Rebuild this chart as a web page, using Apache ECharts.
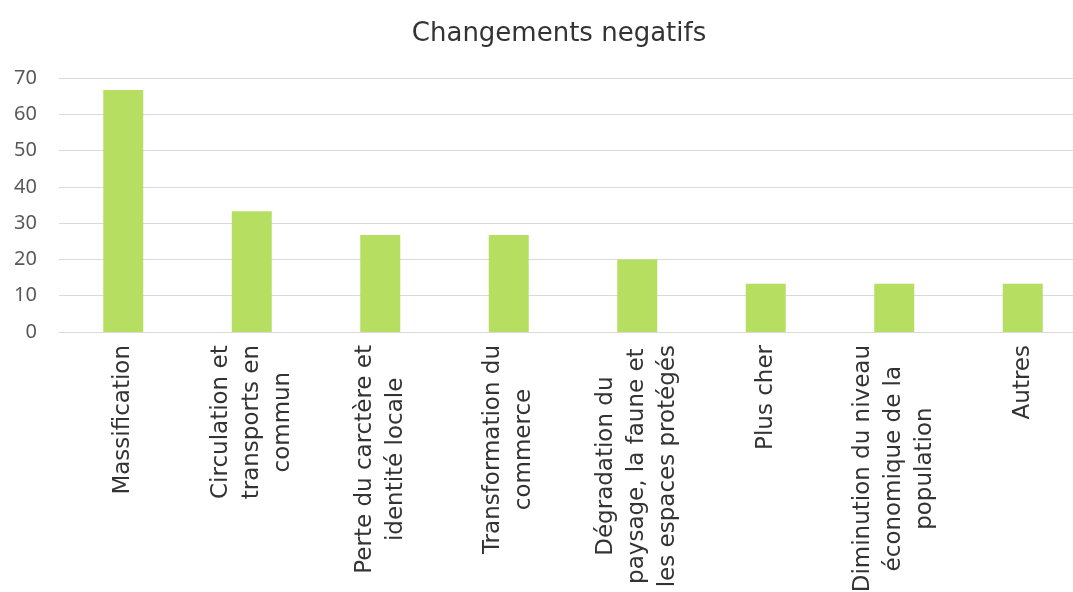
<!DOCTYPE html>
<html>
<head>
<meta charset="utf-8">
<script src="https://cdn.jsdelivr.net/npm/echarts@6/dist/echarts.min.js"></script>
<style>
  html, body { margin: 0; padding: 0; background: #fff; overflow: hidden; }
  /* plot area runs a little past the right edge in the original */
  #chart { width: 1087px; height: 592px; }
</style>
</head>
<body>
<div id="chart"></div>
<script>
// data
var categories = [
  "Massification",
  "Circulation et\ntransports en\ncommun",
  "Perte du carctère et\nidentité locale",
  "Transformation du\ncommerce",
  "Dégradation du\npaysage, la faune et\nles espaces protégés",
  "Plus cher",
  "Diminution du niveau\néconomique de la\npopulation",
  "Autres"
];
var values = [66.7, 33.3, 26.7, 26.7, 20, 13.3, 13.3, 13.3];
var yTicks = [0, 10, 20, 30, 40, 50, 60, 70];

var FONT = "DejaVu Sans";

var chart = echarts.init(document.getElementById("chart"));
chart.setOption({
  animation: false,
  title: {
    text: "Changements negatifs",
    left: 554,
    textAlign: "center",
    top: 16,
    textStyle: { fontFamily: FONT, fontSize: 26, fontWeight: "normal", color: "#333" }
  },
  grid: { left: 59, right: 0, top: 78, bottom: 260, containLabel: false, outerBoundsMode: "none" },
  xAxis: {
    type: "category",
    data: categories,
    axisLine: { lineStyle: { color: "#D9D9D9", width: 1 } },
    axisTick: { show: false },
    axisLabel: {
      rotate: 90,
      interval: 0,
      margin: 13,
      formatter: function (v) {
        return v.split("\n").map(function (l) { return "{c|" + l + "}"; }).join("\n");
      },
      rich: {
        c: { align: "center", fontFamily: FONT, fontSize: 23, color: "#333", lineHeight: 31 }
      }
    }
  },
  yAxis: {
    type: "value",
    min: yTicks[0],
    max: yTicks[yTicks.length - 1],
    interval: 10,
    axisLine: { show: false },
    axisTick: { show: false },
    splitLine: { lineStyle: { color: "#D9D9D9", width: 1 } },
    axisLabel: { fontFamily: "Noto Sans", fontSize: 20, color: "#595959", margin: 22 }
  },
  series: [{
    type: "bar",
    data: values,
    barWidth: 40,
    itemStyle: { color: "#B6DF61" }
  }]
});
</script>
</body>
</html>
